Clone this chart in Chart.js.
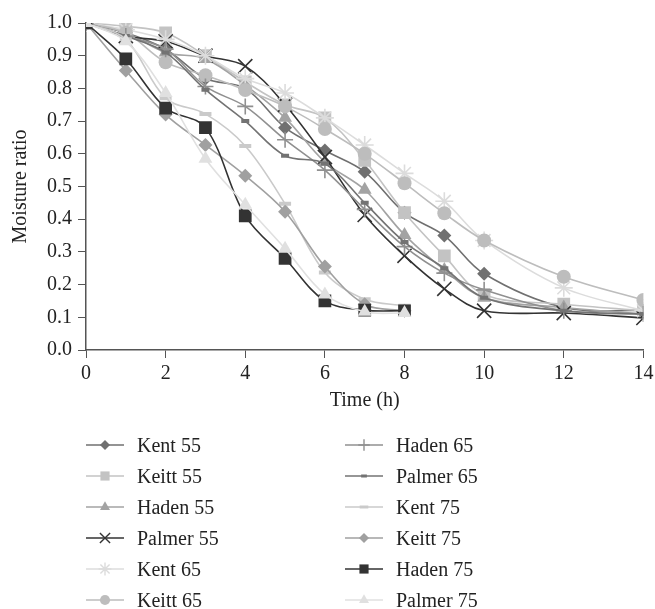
<!DOCTYPE html>
<html>
<head>
<meta charset="utf-8">
<script src="https://cdn.jsdelivr.net/npm/chart.js@4.4.0/dist/chart.umd.min.js"></script>
<style>
  html, body { margin: 0; padding: 0; background: #fff; }
  #wrap { position: relative; width: 655px; height: 609px; overflow: hidden; }
  #chartBox { position: absolute; left: 0; top: 0; width: 655px; height: 421px; }
  #legend { position: absolute; left: 0; top: 0; width: 655px; height: 609px; pointer-events: none;
            font-family: "Liberation Serif", serif; font-size: 20px; color: #222; }
  .item { position: absolute; height: 24px; display: flex; align-items: center; white-space: nowrap; }
  .item canvas { margin-right: 13px; }
</style>
</head>
<body>
<div id="wrap">
  <div id="chartBox"><canvas id="moistureChart"></canvas></div>
  <div id="legend"></div>
</div>
<script>
// drying time (h)
const hoursLong = [0, 1, 2, 3, 4, 5, 6, 7, 8, 9, 10, 12, 14];
const hoursShort = [0, 1, 2, 3, 4, 5, 6, 7, 8];

// moisture ratio, 55 and 65 °C runs (to 14 h)
const kent55   = [1.0, 0.97, 0.92, 0.83, 0.80, 0.68, 0.61, 0.545, 0.42, 0.35, 0.233, 0.13, 0.12];
const keitt55  = [1.0, 0.99, 0.97, 0.90, 0.82, 0.75, 0.71, 0.58, 0.42, 0.288, 0.17, 0.14, 0.12];
const haden55  = [1.0, 0.97, 0.91, 0.89, 0.81, 0.71, 0.575, 0.49, 0.352, 0.245, 0.16, 0.13, 0.11];
const palmer55 = [1.0, 0.96, 0.944, 0.90, 0.868, 0.75, 0.59, 0.413, 0.288, 0.187, 0.12, 0.113, 0.098];
const kent65   = [1.0, 0.98, 0.95, 0.90, 0.83, 0.786, 0.71, 0.627, 0.54, 0.455, 0.335, 0.19, 0.12];
const keitt65  = [1.0, 0.97, 0.88, 0.84, 0.795, 0.745, 0.676, 0.60, 0.51, 0.418, 0.335, 0.224, 0.153];
const haden65  = [1.0, 0.96, 0.92, 0.806, 0.745, 0.643, 0.55, 0.43, 0.316, 0.235, 0.184, 0.12, 0.11];
const palmer65 = [1.0, 0.96, 0.91, 0.796, 0.70, 0.594, 0.57, 0.45, 0.33, 0.25, 0.16, 0.12, 0.11];

// 75 °C runs (to 8 h)
const kent75   = [1.0, 0.95, 0.77, 0.722, 0.624, 0.447, 0.237, 0.155, 0.135];
const keitt75  = [1.0, 0.855, 0.72, 0.627, 0.533, 0.423, 0.255, 0.14, 0.12];
const haden75  = [1.0, 0.89, 0.74, 0.68, 0.41, 0.28, 0.15, 0.122, 0.12];
const palmer75 = [1.0, 0.944, 0.786, 0.585, 0.444, 0.31, 0.17, 0.117, 0.113];

const xTicks = [0, 2, 4, 6, 8, 10, 12, 14];

const series = [
  { label: 'Kent 55',   hours: hoursLong,  values: kent55,   color: '#707070', style: 'rectRot',  r: 7 },
  { label: 'Keitt 55',  hours: hoursLong,  values: keitt55,  color: '#c3c3c3', style: 'rect',     r: 9 },
  { label: 'Haden 55',  hours: hoursLong,  values: haden55,  color: '#a3a3a3', style: 'triangle', r: 8 },
  { label: 'Palmer 55', hours: hoursLong,  values: palmer55, color: '#333333', style: 'crossRot', r: 10 },
  { label: 'Kent 65',   hours: hoursLong,  values: kent65,   color: '#dcdcdc', style: 'star',     r: 9 },
  { label: 'Keitt 65',  hours: hoursLong,  values: keitt65,  color: '#bdbdbd', style: 'circle',   r: 7 },
  { label: 'Haden 65',  hours: hoursLong,  values: haden65,  color: '#909090', style: 'cross',    r: 8 },
  { label: 'Palmer 65', hours: hoursLong,  values: palmer65, color: '#737373', style: 'line',     r: 4 },
  { label: 'Kent 75',   hours: hoursShort, values: kent75,   color: '#cacaca', style: 'line',     r: 6 },
  { label: 'Keitt 75',  hours: hoursShort, values: keitt75,  color: '#a0a0a0', style: 'rectRot',  r: 7 },
  { label: 'Haden 75',  hours: hoursShort, values: haden75,  color: '#333333', style: 'rect',     r: 9 },
  { label: 'Palmer 75', hours: hoursShort, values: palmer75, color: '#e0e0e0', style: 'triangle', r: 8 }
];

function isStroke(style) {
  return style === 'crossRot' || style === 'cross' || style === 'star' || style === 'line';
}

const datasets = series.map((s, i) => ({
  label: s.label,
  data: s.hours.map((h, k) => ({ x: h, y: s.values[k] })),
  borderColor: s.color,
  backgroundColor: s.color,
  borderWidth: 1.6,
  tension: 0.35,
  pointStyle: s.style,
  pointRadius: s.r,
  pointBorderWidth: s.style === 'line' ? 4 : (isStroke(s.style) ? 1.6 : 0),
  pointBorderColor: s.color,
  pointBackgroundColor: s.color,
  fill: false,
  order: series.length - i
}));

Chart.defaults.font.family = '"Liberation Serif", serif';
Chart.defaults.font.size = 20;
Chart.defaults.color = '#222';

const ctx = document.getElementById('moistureChart').getContext('2d');
new Chart(ctx, {
  type: 'line',
  data: { datasets: datasets },
  options: {
    responsive: true,
    maintainAspectRatio: false,
    animation: false,
    layout: { padding: { top: 23, right: 0, left: 0, bottom: 0 } },
    plugins: { legend: { display: false }, tooltip: { enabled: false } },
    scales: {
      x: {
        type: 'linear',
        min: 0,
        max: 14,
        afterBuildTicks: (axis) => { axis.ticks = xTicks.map(v => ({ value: v })); },
        afterFit: (axis) => { axis.height = 71; axis.paddingRight = 10; axis.paddingLeft = 0; },
        grid: { drawOnChartArea: false, drawTicks: true, tickLength: 8, color: '#555' },
        border: { color: '#555', width: 1.5 },
        ticks: { padding: 4, color: '#222' },
        title: { display: true, text: 'Time (h)', padding: { top: 0, bottom: 8 }, color: '#222' }
      },
      y: {
        min: 0,
        max: 1.0,
        ticks: { stepSize: 0.1, padding: 6, color: '#222', callback: (v) => v.toFixed(1) },
        afterFit: (axis) => { axis.width = 86; },
        grid: { drawOnChartArea: false, drawTicks: true, tickLength: 8, color: '#555' },
        border: { color: '#555', width: 1.5 },
        title: { display: true, text: 'Moisture ratio', padding: { top: 9, bottom: 0 }, color: '#222' }
      }
    }
  }
});

// legend: two columns, filled top to bottom
const legendBox = document.getElementById('legend');
series.forEach((s, i) => {
  const col = Math.floor(i / 6);
  const row = i % 6;
  const item = document.createElement('div');
  item.className = 'item';
  item.style.left = (col === 0 ? 86 : 345) + 'px';
  item.style.top = (433 + row * 31) + 'px';

  const c = document.createElement('canvas');
  c.width = 38; c.height = 20;
  const g = c.getContext('2d');
  g.strokeStyle = s.color;
  g.fillStyle = s.color;
  g.lineWidth = 1.6;
  g.beginPath(); g.moveTo(0, 10); g.lineTo(38, 10); g.stroke();
  const lw = s.style === 'line' ? 3 : (isStroke(s.style) ? 1.4 : 0);
  g.lineWidth = lw || 1;
  Chart.helpers.drawPoint(g, { pointStyle: s.style, radius: s.r * 0.72, borderWidth: lw, rotation: 0 }, 19, 10);

  const t = document.createElement('span');
  t.textContent = s.label;
  item.appendChild(c);
  item.appendChild(t);
  legendBox.appendChild(item);
});
</script>
</body>
</html>
